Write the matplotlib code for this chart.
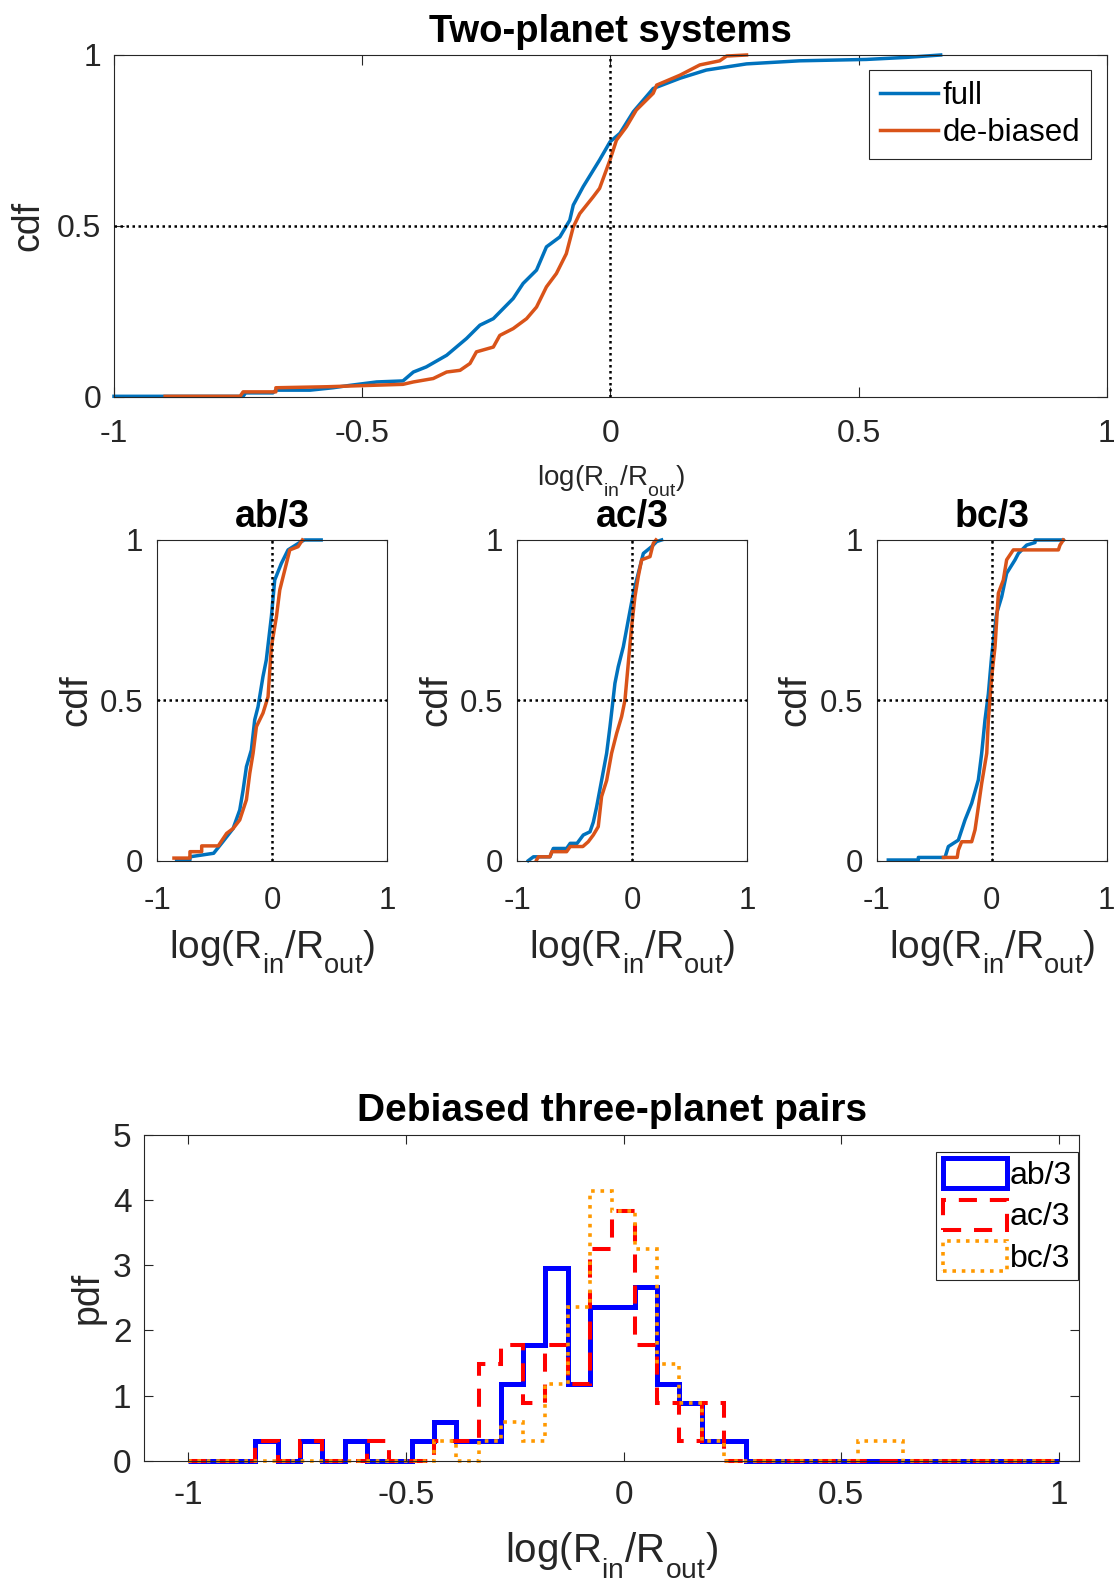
import numpy as np
import matplotlib
matplotlib.use("Agg")
import matplotlib.pyplot as plt
import matplotlib._mathtext as mathtext_internal
from matplotlib.patches import Patch

plt.rcParams['font.family'] = ['Liberation Sans', 'DejaVu Sans']
plt.rcParams['mathtext.fontset'] = 'custom'
plt.rcParams['mathtext.rm'] = 'Liberation Sans'
plt.rcParams['mathtext.it'] = 'Liberation Sans:italic'
plt.rcParams['axes.unicode_minus'] = False
# drop the subscripts lower, TeX-interpreter style
mathtext_internal.FontConstantsBase.sub1 = 0.75

# --- cumulative distributions, all two-planet systems: (x, cdf) corners ---
two_full_x = [-1.0, -0.74, -0.735, -0.68, -0.674, -0.605, -0.559, -0.525, -0.471, -0.418,
              -0.397, -0.371, -0.330, -0.290, -0.263, -0.236, -0.196, -0.176, -0.149, -0.129,
              -0.102, -0.082, -0.075, -0.055, -0.022, -0.001, 0.019, 0.046, 0.086, 0.140,
              0.193, 0.274, 0.381, 0.515, 0.596, 0.665]
two_full_y = [0.002, 0.002, 0.012, 0.012, 0.020, 0.020, 0.027, 0.034, 0.044, 0.047,
              0.073, 0.088, 0.122, 0.171, 0.210, 0.229, 0.288, 0.332, 0.371, 0.439,
              0.468, 0.517, 0.561, 0.615, 0.693, 0.746, 0.771, 0.834, 0.902, 0.932,
              0.956, 0.974, 0.983, 0.987, 0.993, 1.0]
two_deb_x = [-0.897, -0.746, -0.74, -0.674, -0.674, -0.57, -0.418, -0.397, -0.357, -0.330,
             -0.303, -0.283, -0.270, -0.236, -0.223, -0.196, -0.169, -0.149, -0.129, -0.109,
             -0.089, -0.075, -0.062, -0.035, -0.022, -0.001, 0.012, 0.032, 0.052, 0.086,
             0.093, 0.140, 0.180, 0.220, 0.234, 0.274]
two_deb_y = [0.002, 0.002, 0.015, 0.015, 0.027, 0.030, 0.037, 0.044, 0.054, 0.073,
             0.078, 0.098, 0.132, 0.146, 0.180, 0.200, 0.229, 0.263, 0.322, 0.361,
             0.419, 0.497, 0.536, 0.585, 0.610, 0.693, 0.751, 0.790, 0.839, 0.888,
             0.912, 0.941, 0.971, 0.983, 0.997, 1.0]

# --- three-planet pairs ---
ab_full_x = [-0.832, -0.716, -0.716, -0.51, -0.43, -0.341, -0.283, -0.254, -0.225, -0.182,
             -0.153, -0.124, -0.081, -0.052, -0.008, 0.021, 0.079, 0.137, 0.238, 0.28, 0.425]
ab_full_y = [0.002, 0.002, 0.012, 0.023, 0.059, 0.10, 0.158, 0.22, 0.293, 0.345,
             0.439, 0.48, 0.574, 0.626, 0.761, 0.875, 0.927, 0.969, 0.992, 1.0, 1.0]
ab_deb_x = [-0.855, -0.716, -0.716, -0.614, -0.614, -0.47, -0.397, -0.341, -0.283, -0.225,
            -0.196, -0.167, -0.138, -0.081, -0.037, -0.008, 0.036, 0.065, 0.123, 0.152,
            0.224, 0.262]
ab_deb_y = [0.008, 0.008, 0.028, 0.028, 0.046, 0.046, 0.085, 0.10, 0.127, 0.19,
            0.272, 0.335, 0.418, 0.46, 0.511, 0.667, 0.761, 0.844, 0.927, 0.969,
            0.979, 1.0]

ac_full_x = [-0.904, -0.86, -0.716, -0.687, -0.571, -0.54, -0.48, -0.426, -0.368, -0.339,
             -0.31, -0.267, -0.223, -0.194, -0.151, -0.122, -0.078, -0.035, 0.009, 0.052,
             0.096, 0.168, 0.212, 0.255]
ac_full_y = [0.0, 0.012, 0.012, 0.038, 0.038, 0.054, 0.054, 0.08, 0.09, 0.12,
             0.168, 0.25, 0.335, 0.418, 0.553, 0.605, 0.667, 0.75, 0.834, 0.896,
             0.958, 0.979, 0.995, 1.0]
ac_deb_x = [-0.832, -0.817, -0.716, -0.70, -0.571, -0.54, -0.43, -0.383, -0.339, -0.296,
            -0.267, -0.223, -0.18, -0.136, -0.093, -0.064, -0.035, -0.006, 0.023, 0.052,
            0.081, 0.154, 0.183, 0.206]
ac_deb_y = [0.002, 0.012, 0.012, 0.028, 0.028, 0.044, 0.044, 0.059, 0.08, 0.106,
            0.2, 0.25, 0.335, 0.397, 0.449, 0.5, 0.615, 0.73, 0.823, 0.886,
            0.938, 0.948, 0.99, 1.0]

bc_full_x = [-0.899, -0.638, -0.638, -0.406, -0.377, -0.29, -0.232, -0.174, -0.116, -0.087,
             -0.058, -0.029, 0.0, 0.043, 0.087, 0.13, 0.203, 0.232, 0.304, 0.377,
             0.377, 0.62]
bc_full_y = [0.002, 0.002, 0.01, 0.01, 0.044, 0.064, 0.127, 0.179, 0.252, 0.335,
             0.44, 0.52, 0.64, 0.771, 0.823, 0.896, 0.938, 0.958, 0.984, 0.992,
             1.0, 1.0]
bc_deb_x = [-0.42, -0.30, -0.29, -0.261, -0.174, -0.145, -0.116, -0.087, -0.043, -0.029,
            0.0, 0.029, 0.058, 0.101, 0.13, 0.188, 0.58, 0.594, 0.623]
bc_deb_y = [0.01, 0.01, 0.033, 0.059, 0.059, 0.096, 0.168, 0.241, 0.335, 0.439,
            0.574, 0.667, 0.834, 0.875, 0.938, 0.969, 0.969, 0.984, 1.0]

# --- debiased histograms: counts in 39 equal bins over [-1, 1] ---
bin_edges = np.linspace(-1, 1, 40)
ab_counts = [0, 0, 0, 1, 0, 1, 0, 1, 0, 0, 1, 2, 1, 1, 4, 6, 10, 4, 8, 8,
             9, 4, 3, 1, 1, 0, 0, 0, 0, 0, 0, 0, 0, 0, 0, 0, 0, 0, 0]
ac_counts = [0, 0, 0, 1, 0, 1, 0, 0, 1, 0, 0, 1, 1, 5, 6, 3, 6, 4, 11, 13,
             6, 3, 1, 3, 0, 0, 0, 0, 0, 0, 0, 0, 0, 0, 0, 0, 0, 0, 0]
bc_counts = [0, 0, 0, 0, 0, 0, 0, 0, 0, 0, 0, 1, 0, 1, 2, 1, 4, 8, 14, 13,
             11, 5, 3, 1, 0, 0, 0, 0, 0, 0, 1, 1, 0, 0, 0, 0, 0, 0, 0]

BLUE = '#0072BD'
ORANGE = '#D95319'
AXC = '#262626'
XLAB = r'$\mathrm{log(R_{in}/R_{out})}$'
DOT = (0, (1, 1.4))


def style(ax, ticklen, labelsize, xpad, ypad):
    ax.tick_params(direction='in', length=ticklen, width=0.8, color=AXC,
                   labelcolor=AXC, top=True, right=True, labelsize=labelsize)
    ax.tick_params(axis='x', pad=xpad)
    ax.tick_params(axis='y', pad=ypad)
    for s in ax.spines.values():
        s.set_color(AXC)
        s.set_linewidth(0.8)


def guides(ax):
    ax.axvline(0, color='k', lw=1.8, ls=DOT, zorder=5)
    ax.axhline(0.5, color='k', lw=1.8, ls=DOT, zorder=5)


fig = plt.figure(figsize=(11.14, 15.79), dpi=100)

# top: all two-planet systems
ax = fig.add_axes([0.10233, 0.74858, 0.89138, 0.21659])
ax.plot(two_full_x, two_full_y, color=BLUE, lw=2.5, label='full', clip_on=False)
ax.plot(two_deb_x, two_deb_y, color=ORANGE, lw=2.5, label='de-biased', clip_on=False)
guides(ax)
ax.set_xlim(-1, 1)
ax.set_ylim(0, 1)
ax.set_xticks([-1, -0.5, 0, 0.5, 1])
ax.set_xticklabels(['-1', '-0.5', '0', '0.5', '1'])
ax.set_yticks([0, 0.5, 1])
ax.set_yticklabels(['0', '0.5', '1'])
style(ax, 7, 23, 16, 9)
ax.set_title('Two-planet systems', fontsize=27.5, fontweight='bold', pad=9)
ax.set_xlabel(XLAB, fontsize=20, color=AXC)
ax.xaxis.set_label_coords(0.5, -0.195)
ax.set_ylabel('cdf', fontsize=27, color=AXC)
ax.yaxis.set_label_coords(-0.068, 0.5)
leg = ax.legend(loc='upper right', bbox_to_anchor=(0.984, 0.955), borderaxespad=0,
                fontsize=22.5, fancybox=False, edgecolor=AXC, framealpha=1,
                handlelength=1.85, handletextpad=0.15, borderpad=0.35, labelspacing=0.2)
leg.get_frame().set_linewidth(0.8)

# middle: the three pairs in three-planet systems
pairs = [('ab/3', ab_full_x, ab_full_y, ab_deb_x, ab_deb_y, 0.14120),
         ('ac/3', ac_full_x, ac_full_y, ac_deb_x, ac_deb_y, 0.46436),
         ('bc/3', bc_full_x, bc_full_y, bc_deb_x, bc_deb_y, 0.78698)]
for name, fx, fy, dx, dy, left in pairs:
    ax = fig.add_axes([left, 0.45494, 0.20646, 0.20310])
    ax.plot(fx, fy, color=BLUE, lw=2.5, clip_on=False)
    ax.plot(dx, dy, color=ORANGE, lw=2.5, clip_on=False)
    guides(ax)
    ax.set_xlim(-1, 1)
    ax.set_ylim(0, 1)
    ax.set_xticks([-1, 0, 1])
    ax.set_xticklabels(['-1', '0', '1'])
    ax.set_yticks([0, 0.5, 1])
    ax.set_yticklabels(['0', '0.5', '1'])
    style(ax, 2.2, 22.5, 18, 10)
    ax.set_title(name, fontsize=27, fontweight='bold', pad=9.5)
    ax.set_xlabel(XLAB, fontsize=28, color=AXC)
    ax.xaxis.set_label_coords(0.5, -0.21)
    ax.set_ylabel('cdf', fontsize=28, color=AXC)
    ax.yaxis.set_label_coords(-0.274, 0.5)

# bottom: debiased pdfs
ax = fig.add_axes([0.12926, 0.07492, 0.83959, 0.20627])
width = bin_edges[1] - bin_edges[0]
hist_styles = [(ab_counts, 'blue', 3.6, '-'),
               (ac_counts, 'red', 2.9, (0, (4.5, 3.2))),
               (bc_counts, '#FF9900', 2.6, (0, (1, 1.6)))]
handles = []
for counts, color, lw, ls in hist_styles:
    pdf = np.asarray(counts, dtype=float) / (np.sum(counts) * width)
    ax.stairs(pdf, bin_edges, color=color, lw=lw, linestyle=ls, clip_on=False)
    handles.append(Patch(facecolor='none', edgecolor=color, lw=lw, linestyle=ls))
ax.set_xlim(-1.102, 1.047)
ax.set_ylim(0, 5)
ax.set_xticks([-1, -0.5, 0, 0.5, 1])
ax.set_xticklabels(['-1', '-0.5', '0', '0.5', '1'])
ax.set_yticks([0, 1, 2, 3, 4, 5])
ax.set_yticklabels(['0', '1', '2', '3', '4', '5'])
style(ax, 6.5, 24, 14, 9)
ax.set_title('Debiased three-planet pairs', fontsize=28, fontweight='bold', pad=10)
ax.set_xlabel(XLAB, fontsize=29, color=AXC)
ax.xaxis.set_label_coords(0.5, -0.213)
ax.set_ylabel('pdf', fontsize=27, color=AXC)
ax.yaxis.set_label_coords(-0.041, 0.5)
leg = ax.legend(handles, ['ab/3', 'ac/3', 'bc/3'], loc='upper right',
                bbox_to_anchor=(0.999, 0.948), borderaxespad=0, fontsize=23,
                fancybox=False, edgecolor=AXC, framealpha=1, handlelength=2.0,
                handleheight=1.07, handletextpad=0.1, borderpad=0.2, labelspacing=0.26)
leg.get_frame().set_linewidth(0.8)

fig.savefig('out.png', dpi=100)
